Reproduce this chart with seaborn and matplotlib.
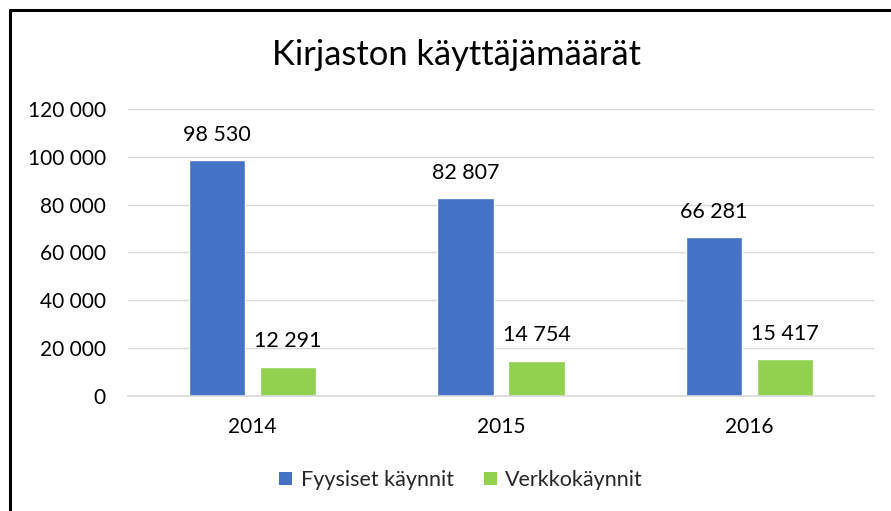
import matplotlib
matplotlib.use("Agg")
import matplotlib.pyplot as plt
import seaborn as sns
import pandas as pd
from matplotlib.ticker import FuncFormatter
from matplotlib.patches import Patch
from matplotlib.lines import Line2D

years = ["2014", "2015", "2016"]
series_names = ["Fyysiset käynnit", "Verkkokäynnit"]
fyysiset = [98530, 82807, 66281]
verkko = [12291, 14754, 15417]
colors = ["#4472C4", "#92D050"]
title = "Kirjaston käyttäjämäärät"

df = pd.DataFrame({
    "Vuosi": years * 2,
    "Sarja": [series_names[0]] * 3 + [series_names[1]] * 3,
    "Arvo": fyysiset + verkko,
})

sns.set_theme(style="white")
plt.rcParams["font.family"] = ["Lato", "DejaVu Sans"]

fig = plt.figure(figsize=(8.91, 5.11), dpi=100)
ax = fig.add_axes([128/891, 1-396/511, (874-128)/891, (396-109)/511])

sns.barplot(data=df, x="Vuosi", y="Arvo", hue="Sarja", palette=colors,
            width=0.571, gap=0.21, ax=ax, legend=False, saturation=1)

fmt = lambda v, p=None: f"{int(v):,}".replace(",", " ")
ax.set_ylim(0, 120000)
ax.set_yticks(range(0, 120001, 20000))
ax.yaxis.set_major_formatter(FuncFormatter(fmt))
ax.set_xlim(-0.5, 2.5)
ax.grid(axis="y", color="#D9D9D9", linewidth=1)
ax.set_axisbelow(True)
for s in ["left", "right", "top"]:
    ax.spines[s].set_visible(False)
ax.spines["bottom"].set_color("#D9D9D9")
ax.spines["bottom"].set_linewidth(1.2)
ax.tick_params(axis="y", length=0, labelsize=15, colors="black", pad=16)
ax.tick_params(axis="x", length=0, labelsize=15, colors="black", pad=15)
ax.set_xlabel("")
ax.set_ylabel("")

for cont in ax.containers:
    ax.bar_label(cont, labels=[fmt(b.get_height()) for b in cont], padding=11,
                 fontsize=15.5, color="black")

fig.text(457/891, 1-55/511, title, ha="center", va="center", fontsize=24.8, color="black")

handles = [Patch(facecolor=c, edgecolor="none") for c in colors]
fig.legend(handles, series_names, loc="center", bbox_to_anchor=(461/891, 1-480/511),
           ncol=2, frameon=False, fontsize=15.5, handlelength=0.6, handleheight=0.6,
           handletextpad=0.4, columnspacing=1.4)

fig.add_artist(Line2D([9.5/891, 9.5/891], [0, 1-10.5/511], transform=fig.transFigure,
                      color="black", linewidth=2.2))
fig.add_artist(Line2D([9.5/891, 1], [1-10.5/511, 1-10.5/511], transform=fig.transFigure,
                      color="black", linewidth=2.2))

fig.savefig("out.png", dpi=100, facecolor="white")
